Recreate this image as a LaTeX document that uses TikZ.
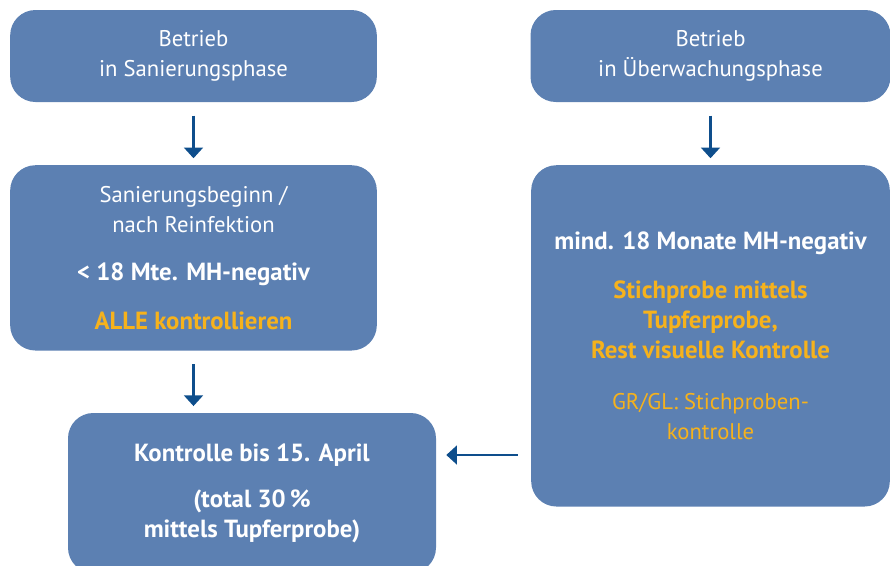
\documentclass[tikz,border=0pt]{standalone}
\usepackage{fontspec}
\setmainfont{PT Sans}
\usetikzlibrary{positioning,arrows.meta,calc}
\usepackage{xcolor}
\newcommand{\myunit}{0.75pt}
\definecolor{boxblue}{RGB}{92,128,178}
\definecolor{arrblue}{RGB}{14,78,140}
\definecolor{hlorange}{RGB}{246,178,28}
\tikzset{
    boxsty/.style={fill=boxblue,rounded corners=19pt,inner sep=0pt,align=center,text=white,
                   font=\fontsize{17}{22.5}\selectfont},
    topsty/.style={boxsty,minimum height=69pt},
    arrsty/.style={draw=arrblue,line width=2.2pt,-{Triangle[width=14pt,length=8pt]}},
}
\newcommand{\hl}[1]{\textcolor{hlorange}{#1}}
\newcommand{\bt}[1]{{\fontsize{18.6}{22.5}\selectfont\bfseries #1}}

\begin{document}
\begin{tikzpicture}[x=\myunit,y=-\myunit]
  \useasboundingbox (0,0) rectangle (890,565);
  % top row
  \node (san)  [topsty,minimum width=275pt] at (193.5,56) {Betrieb\\in Sanierungsphase};
  \node (ueb)  [topsty,minimum width=270pt] at (710.5,56) {Betrieb\\in Überwachungsphase};
  % second row
  \node (beg)  [boxsty,minimum width=275pt,minimum height=139pt,below=47pt of san]
    {Sanierungsbeginn /\\nach Reinfektion\\[14pt]
     \bt{< 18 Mte. MH-negativ}\\[14pt]
     \hl{\bt{ALLE kontrollieren}}};
  \node (mind) [boxsty,minimum width=269pt,minimum height=256pt,below=47pt of ueb]
    {\bt{mind. 18 Monate MH-negativ}\\[14pt]
     \hl{\bt{Stichprobe mittels}}\\\hl{\bt{Tupferprobe,}}\\\hl{\bt{Rest visuelle Kontrolle}}\\[16pt]
     \hl{GR/GL: Stichproben-}\\\hl{kontrolle}};
  % bottom
  \node (kon)  [boxsty,minimum width=276pt,minimum height=120pt] at (252,493)
    {\bt{Kontrolle bis 15. April}\\[12pt]
     \bt{(total 30\,\%}\\\bt{mittels Tupferprobe)}};
  \coordinate (lvl) at (0,455);

  \draw[arrsty,shorten <=10pt,shorten >=5pt] (san) -- (beg);
  \draw[arrsty,shorten <=10pt,shorten >=5pt] (ueb) -- (mind);
  \draw[arrsty,shorten <=10pt,shorten >=5pt] (beg) -- (beg |- kon.north);
  \draw[arrsty,shorten <=10pt,shorten >=7.5pt] (mind.west |- lvl) -- (kon.east |- lvl);
\end{tikzpicture}
\end{document}
